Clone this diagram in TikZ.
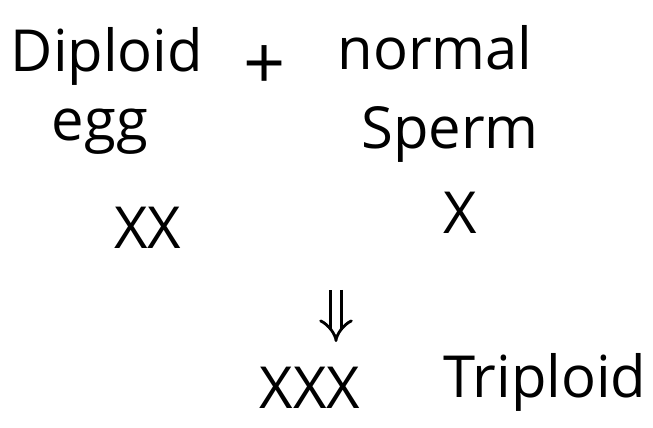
\documentclass[tikz,border=0pt]{standalone}
\usepackage{fontspec}
\setmainfont{Open Sans}
\usetikzlibrary{arrows.meta}
\tikzset{
  hw/.style={inner sep=0pt,font=\fontsize{33}{38}\selectfont},
  every picture/.style={line width=1.6pt},
}
\begin{document}
\begin{tikzpicture}[x=0.02cm,y=-0.02cm]
\useasboundingbox (0,0) rectangle (653,428);
\node[hw] (diploid) at (107,56){Diploid};
\node[hw,font=\fontsize{42}{44}\selectfont] (plus) at (265,68){+};
\node[hw] (normal) at (435,48){normal};
\node[hw] (egg) at (100,132){egg}; \node[hw] (sperm) at (450,134){Sperm};
\node[hw] (xx) at (148,228){XX}; \node[hw] (x) at (460,213){X};
\node[hw] (xxx) at (310,388){XXX}; \node[hw] (triploid) at (545,382){Triploid};
\coordinate (atop) at (336,290); \coordinate (abot) at (336,342);
\draw[double,double distance=5pt,-{Implies}] (atop)--(abot);
\end{tikzpicture}
\end{document}
